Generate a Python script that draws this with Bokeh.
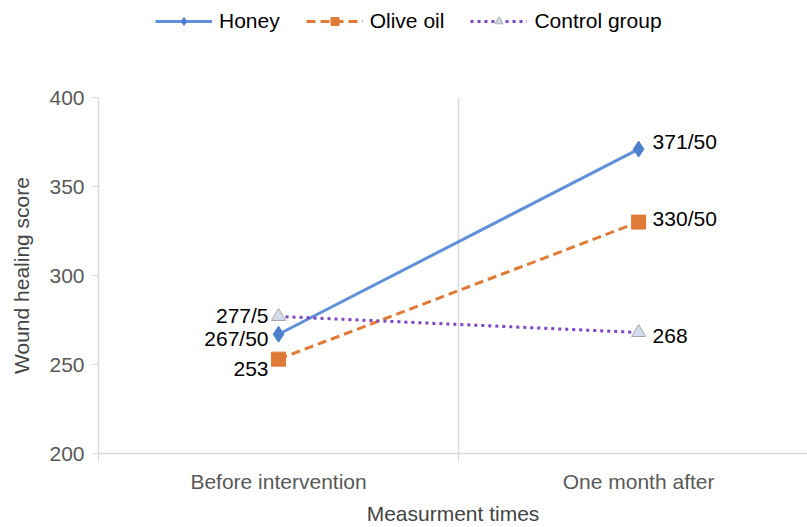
from bokeh.plotting import figure
from bokeh.layouts import column
from bokeh.models import ColumnDataSource, FixedTicker, Legend, LegendItem, Range1d
from bokeh.core.properties import value
from bokeh.embed import file_html
from bokeh.resources import INLINE

categories = ["Before intervention", "One month after"]
honey = [267, 371]
olive_oil = [253, 330]
control = [277, 268]
honey_labels = ["267/50", "371/50"]
olive_labels = ["253", "330/50"]
control_labels = ["277/5", "268"]
y_ticks = [200, 250, 300, 350, 400]

xpos = [i + 0.5 for i in range(len(categories))]
FONT = "Liberation Sans"
FS = "21px"

blue = "#5f90d8"
orange = "#df7b37"
purple = "#7c45c2"


def draw_series(fig):
    l1 = fig.line(xpos, honey, line_color=blue, line_width=3)
    m1 = fig.scatter(xpos, honey, marker="diamond", size=16, fill_color="#4d7fcf", line_color="#4d7fcf")
    l2 = fig.line(xpos, olive_oil, line_color=orange, line_width=3, line_dash="9 5")
    m2 = fig.scatter(xpos, olive_oil, marker="square", size=14, fill_color=orange, line_color=orange)
    l3 = fig.line(xpos, control, line_color=purple, line_width=3, line_dash="3 4")
    m3 = fig.scatter(xpos, control, marker="triangle", size=14, fill_color="#d3dcec", line_color="#a8a8a8")
    return [(l1, m1), (l2, m2), (l3, m3)]


# ---- legend strip on top ----
lg = figure(width=807, height=45, output_backend="svg", toolbar_location=None,
            x_axis_location=None, y_axis_location=None,
            min_border_left=0, min_border_right=0, min_border_top=0, min_border_bottom=0)
lg.outline_line_color = None
lg.grid.visible = False
lg_series = draw_series(lg)
for pair in lg_series:
    for r in pair:
        r.visible = False
legend = Legend(items=[LegendItem(label="Honey", renderers=list(lg_series[0])),
                       LegendItem(label="Olive oil", renderers=list(lg_series[1])),
                       LegendItem(label="Control group", renderers=list(lg_series[2]))],
                orientation="horizontal", location=(57, 12),
                label_text_font=FONT, label_text_font_size=FS, label_text_color="#000000",
                glyph_width=57, glyph_height=20, label_standoff=7, spacing=26,
                border_line_color=None, background_fill_alpha=0, inactive_fill_alpha=0,
                padding=0, margin=0)
lg.add_layout(legend, "center")

# ---- main chart ----
p = figure(width=807, height=482, output_backend="svg", toolbar_location=None,
           x_range=Range1d(0, 1.969), y_range=Range1d(200, 400),
           min_border_left=98, min_border_right=0, min_border_top=52, min_border_bottom=74)
p.outline_line_color = None
p.ygrid.grid_line_color = None
p.xgrid.ticker = FixedTicker(ticks=[1])
p.xgrid.grid_line_color = "#d9d9d9"
p.xgrid.grid_line_width = 1.5

p.xaxis.ticker = FixedTicker(ticks=xpos, minor_ticks=[0, 1, 2])
p.xaxis.major_label_overrides = {x: c for x, c in zip(xpos, categories)}
p.xaxis.major_tick_line_color = None
p.xaxis.minor_tick_line_color = "#d9d9d9"
p.xaxis.minor_tick_out = 9
p.xaxis.minor_tick_in = 0
p.xaxis.axis_line_color = "#d9d9d9"
p.xaxis.axis_line_width = 1.5
p.xaxis.major_label_text_font = FONT
p.xaxis.major_label_text_font_size = FS
p.xaxis.major_label_text_color = "#595959"
p.xaxis.major_label_standoff = 7
p.xaxis.axis_label = "Measurment times"
p.xaxis.axis_label_text_font = FONT
p.xaxis.axis_label_text_font_size = FS
p.xaxis.axis_label_text_font_style = "normal"
p.xaxis.axis_label_standoff = 6

p.yaxis.ticker = FixedTicker(ticks=y_ticks)
p.yaxis.major_tick_line_color = "#d9d9d9"
p.yaxis.major_tick_out = 6
p.yaxis.major_tick_in = 0
p.yaxis.minor_tick_line_color = None
p.yaxis.axis_line_color = "#d9d9d9"
p.yaxis.axis_line_width = 1.5
p.yaxis.major_label_text_font = FONT
p.yaxis.major_label_text_font_size = FS
p.yaxis.major_label_text_color = "#595959"
p.yaxis.major_label_standoff = 8
p.yaxis.axis_label = "Wound healing score"
p.yaxis.axis_label_text_font = FONT
p.yaxis.axis_label_text_font_size = FS
p.yaxis.axis_label_text_font_style = "normal"
p.yaxis.axis_label_standoff = 13

draw_series(p)

left_src = ColumnDataSource(dict(x=[xpos[0]] * 3, y=[honey[0], olive_oil[0], control[0]],
                                 t=[honey_labels[0], olive_labels[0], control_labels[0]],
                                 dy=[4, 10, -1]))
right_src = ColumnDataSource(dict(x=[xpos[1]] * 3, y=[honey[1], olive_oil[1], control[1]],
                                  t=[honey_labels[1], olive_labels[1], control_labels[1]],
                                  dy=[-8, -4, 4]))
p.text(x="x", y="y", text="t", source=left_src, x_offset=-10, y_offset="dy",
       text_align="right", text_baseline="middle", text_font=value(FONT),
       text_font_size=FS, text_color="#000000")
p.text(x="x", y="y", text="t", source=right_src, x_offset=14, y_offset="dy",
       text_align="left", text_baseline="middle", text_font=value(FONT),
       text_font_size=FS, text_color="#000000")

layout = column(lg, p, spacing=0)
open("out.html", "w").write(file_html(layout, INLINE))
